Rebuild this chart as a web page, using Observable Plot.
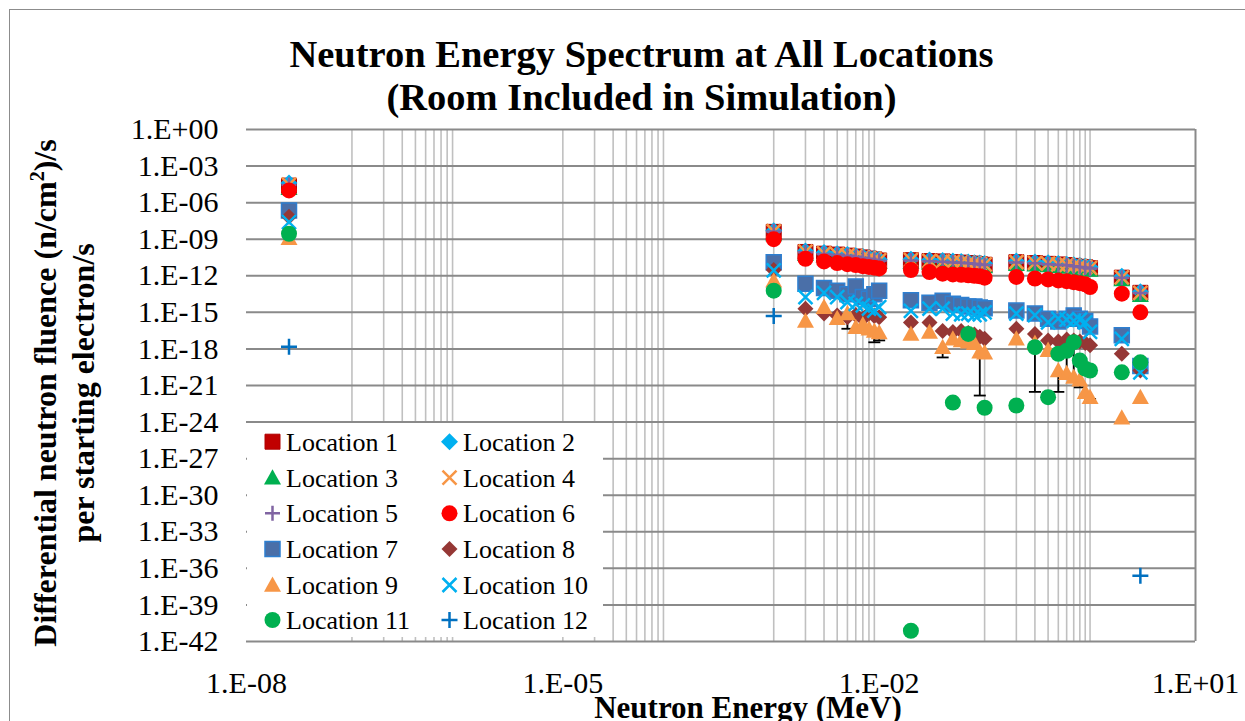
<!DOCTYPE html>
<html><head><meta charset="utf-8">
<script src="https://cdn.jsdelivr.net/npm/d3@7"></script>
<script src="https://cdn.jsdelivr.net/npm/@observablehq/plot@0.6"></script>
<style>
body{margin:0;background:#fff;}
#wrap{position:relative;width:1245px;height:721px;overflow:hidden;font-family:"Liberation Serif","Times New Roman",serif;color:#000;}
#border{position:absolute;left:9px;top:9px;width:1300px;height:800px;border-left:1.5px solid #8c8c8c;border-top:1.5px solid #8c8c8c;}
#chart{position:absolute;left:0;top:0;}
#title{position:absolute;left:0;width:1283px;top:33px;text-align:center;font-weight:bold;font-size:38.5px;line-height:43px;}
#ytitle{position:absolute;width:640px;height:76px;left:-256.5px;top:355px;transform:rotate(-90deg);transform-origin:center;text-align:center;font-weight:bold;font-size:32px;line-height:38px;white-space:nowrap;}
#xtitle{position:absolute;left:448px;width:600px;top:692px;text-align:center;font-weight:bold;font-size:31px;line-height:31px;white-space:nowrap;}
#legend{position:absolute;left:247px;top:423px;width:356px;height:214px;background:#fff;}
</style></head><body>
<div id="wrap">
<div id="border"></div>
<div id="chart"></div>
<div id="title">Neutron Energy Spectrum at All Locations<br>(Room Included in Simulation)</div>
<div id="ytitle">Differential neutron fluence (n/cm<sup style="font-size:20px;line-height:0">2</sup>)/s<br>per starting electron/s</div>
<div id="xtitle">Neutron Energy (MeV)</div>
<div id="legend"></div>
</div>
<script>
// ---- data (MeV energy bins) ----
const energy = [2.53e-8, 1e-3,
  2e-3, 3e-3, 4e-3, 5e-3, 6e-3, 7e-3, 8e-3, 9e-3, 1e-2,
  2e-2, 3e-2, 4e-2, 5e-2, 6e-2, 7e-2, 8e-2, 9e-2, 1e-1,
  2e-1, 3e-1, 4e-1, 5e-1, 6e-1, 7e-1, 8e-1, 9e-1, 1,
  2, 3];
const loc1 = [2.5e-5, 4e-9,
  9e-11, 6.5e-11, 5.5e-11, 4.5e-11, 3.8e-11, 3.2e-11, 2.6e-11, 2.2e-11, 1.8e-11,
  1.9e-11, 1.6e-11, 1.5e-11, 1.3e-11, 1.2e-11, 1.1e-11, 1e-11, 9e-12, 8e-12,
  1.3e-11, 1.1e-11, 9.5e-12, 8.5e-12, 7.5e-12, 6.5e-12, 5.5e-12, 5e-12, 4.2e-12,
  7e-13, 4e-14];
const loc2 = [4e-5, 5e-9,
  1.1e-10, 8e-11, 6.5e-11, 5.5e-11, 4.5e-11, 3.8e-11, 3.2e-11, 2.7e-11, 2.2e-11,
  2.3e-11, 2e-11, 1.8e-11, 1.6e-11, 1.5e-11, 1.35e-11, 1.2e-11, 1.1e-11, 1e-11,
  1.6e-11, 1.35e-11, 1.15e-11, 1e-11, 9e-12, 8e-12, 7e-12, 6e-12, 5.2e-12,
  9e-13, 5e-14];
const loc3 = [1.5e-5, 2.5e-9,
  6e-11, 4.5e-11, 3.8e-11, 3.2e-11, 2.7e-11, 2.3e-11, 1.9e-11, 1.6e-11, 1.3e-11,
  1.3e-11, 1.15e-11, 1.05e-11, 9.5e-12, 8.5e-12, 8e-12, 7.2e-12, 6.5e-12, 5.8e-12,
  9e-12, 8e-12, 7e-12, 6e-12, 5.3e-12, 4.6e-12, 4e-12, 3.5e-12, 3e-12,
  5e-13, 2.5e-14];
const loc4 = [3e-5, 4.5e-9,
  9.5e-11, 7e-11, 5.8e-11, 4.8e-11, 4e-11, 3.4e-11, 2.8e-11, 2.3e-11, 1.9e-11,
  2e-11, 1.7e-11, 1.55e-11, 1.4e-11, 1.25e-11, 1.15e-11, 1.05e-11, 9.5e-12, 8.5e-12,
  1.35e-11, 1.15e-11, 1e-11, 8.8e-12, 7.8e-12, 6.8e-12, 5.8e-12, 5.2e-12, 4.4e-12,
  7.5e-13, 4e-14];
const loc5 = [2.8e-5, 4.2e-9,
  8.5e-11, 6.2e-11, 5.2e-11, 4.3e-11, 3.6e-11, 3e-11, 2.5e-11, 2.1e-11, 1.7e-11,
  1.8e-11, 1.55e-11, 1.45e-11, 1.25e-11, 1.15e-11, 1.05e-11, 9.5e-12, 8.6e-12, 7.7e-12,
  1.25e-11, 1.05e-11, 9e-12, 8e-12, 7.2e-12, 6.2e-12, 5.3e-12, 4.8e-12, 4e-12,
  6.8e-13, 3.8e-14];
const loc6 = [1e-5, 1e-9,
  2.5e-11, 1.5e-11, 1.1e-11, 9e-12, 7.5e-12, 6.2e-12, 5.3e-12, 4.6e-12, 4e-12,
  3e-12, 2e-12, 1.5e-12, 1.3e-12, 1.2e-12, 1.1e-12, 1e-12, 9e-13, 7e-13,
  8e-13, 6e-13, 5e-13, 4.2e-13, 3.6e-13, 3e-13, 2.5e-13, 2e-13, 1.2e-13,
  3.4e-14, 1e-15];
const loc7 = [2.3e-7, 1.3e-11,
  2.2e-13, 1e-13, 6e-14, 3e-14, 1.3e-13, 1.8e-14, 1.3e-14, 3e-14, 6e-14,
  1e-14, 6e-15, 9e-15, 5e-15, 4e-15, 3e-15, 3e-15, 2.5e-15, 2.2e-15,
  1.4e-15, 8e-16, 3e-16, 1.8e-16, 3e-16, 5.6e-16, 3e-16, 2e-16, 7e-17,
  1.3e-17, 4e-20];
const loc8 = [7e-8, 3e-12,
  2e-15, 8e-16, 5.6e-16, 4e-16, 6e-16, 3e-16, 8e-16, 5e-16, 4e-16,
  1.5e-16, 1.5e-16, 3e-17, 2.5e-17, 3e-17, 2e-17, 1.5e-17, 1e-17, 7e-18,
  4.5e-17, 1.7e-17, 5e-18, 4e-18, 6e-18, 5e-18, 4e-18, 3e-18, 2e-18,
  4e-19, 1.7e-20];
const loc9 = [1.2e-9, 4e-13,
  2e-16, 2.7e-15, 3.3e-16, 8e-16, 6e-17, 1e-16, 4.5e-17, 3e-17, 2.2e-17,
  1.7e-17, 2.5e-17, 1.4e-18, 7e-18, 5e-18, 4e-18, 3e-18, 6e-19, 5e-19,
  6.8e-18, 3e-18, 8e-19, 1.7e-20, 1e-20, 5e-21, 3e-21, 2.8e-22, 1.1e-22,
  2.3e-24, 1.1e-22];
const loc10 = [2.5e-8, 2.8e-12,
  1.8e-14, 4e-14, 1.8e-14, 7e-15, 5e-15, 3.7e-15, 2e-15, 1.4e-15, 2.7e-15,
  1.3e-15, 2e-15, 2e-15, 8e-16, 7e-16, 8e-16, 6e-16, 7e-16, 1e-15,
  8e-16, 6e-16, 1.5e-16, 3e-16, 2.5e-16, 2e-16, 2.5e-16, 1.5e-16, 2.5e-17,
  6.8e-18, 1.2e-20];
const loc11 = [2.8e-9, 6e-14,
  null, null, null, null, null, null, null, null, null,
  7.6e-42, null, null, 4e-23, null, 1.7e-17, null, null, 1.5e-23,
  2.3e-23, 1.4e-18, 1.1e-22, 4e-19, 7e-19, 3.6e-18, 1.1e-19, 2.4e-20, 1.7e-20,
  1.2e-20, 8e-20];
const loc12 = [1.5e-18, 5e-16,
  null, null, null, null, null, null, null, null, null,
  null, null, null, null, null, null, null, null, null,
  null, null, null, null, null, null, null, null, null,
  null, 2.5e-37];

// error bars (energy, upper, lower)
const errEnergy = [1e-3, 5e-3, 9e-3, 1e-2, 4e-2, 9e-2, 3e-1, 5e-1, 6e-1, 7e-1, 8e-1, 9e-1, 1];
const errHigh  = [4e-13, 8e-16, 3e-17, 2.2e-17, 1.4e-18, 6e-19, 1.4e-18, 1.7e-20, 7e-19, 3.6e-18, 1.1e-19, 2.8e-22, 1.1e-22];
const errLow   = [1.5e-13, 4.5e-17, 3.5e-18, 5e-18, 2e-19, 1.5e-22, 3e-22, 3e-22, 3.5e-21, 4e-21, 7e-22, 1.5e-22, 8e-23];

const seriesNames = ["Location 1","Location 2","Location 3","Location 4","Location 5","Location 6",
  "Location 7","Location 8","Location 9","Location 10","Location 11","Location 12"];
const xTicks = [1e-8, 1e-5, 1e-2, 10];
const yTicks = [1, 1e-3, 1e-6, 1e-9, 1e-12, 1e-15, 1e-18, 1e-21, 1e-24, 1e-27, 1e-30, 1e-33, 1e-36, 1e-39, 1e-42];
const gridX = [1e-7,2e-7,3e-7,4e-7,5e-7,6e-7,7e-7,8e-7,9e-7,
  1e-5,2e-5,3e-5,4e-5,5e-5,6e-5,7e-5,8e-5,9e-5,
  1e-3,2e-3,3e-3,4e-3,5e-3,6e-3,7e-3,8e-3,9e-3,
  1e-1,2e-1,3e-1,4e-1,5e-1,6e-1,7e-1,8e-1,9e-1,1];

// ---- symbols ----
const R = s => Math.sqrt(s / Math.PI);
const sym = {
  square: {draw(c, s){ const r = R(s); c.moveTo(-r,-r); c.lineTo(r,-r); c.lineTo(r,r); c.lineTo(-r,r); c.closePath(); }},
  diamond: {draw(c, s){ const r = R(s); c.moveTo(0,-r); c.lineTo(r,0); c.lineTo(0,r); c.lineTo(-r,0); c.closePath(); }},
  triangle: {draw(c, s){ const r = R(s); c.moveTo(0,-r); c.lineTo(r,r*0.8); c.lineTo(-r,r*0.8); c.closePath(); }},
  cross: {draw(c, s){ const r = R(s); c.moveTo(-r,-r); c.lineTo(r,r); c.moveTo(-r,r); c.lineTo(r,-r); }},
  plus: {draw(c, s){ const r = R(s); c.moveTo(-r,0); c.lineTo(r,0); c.moveTo(0,-r); c.lineTo(0,r); }},
  circle: {draw(c, s){ const r = R(s); c.moveTo(r,0); c.arc(0,0,r,0,2*Math.PI); c.closePath(); }},
  cap: {draw(c, s){ const r = R(s); c.moveTo(-r,0); c.lineTo(r,0); }}
};
const styles = [
  {symbol: sym.square, fill: "#C00000", stroke: "#B00000", strokeWidth: 1, r: 7.5},
  {symbol: sym.diamond, fill: "#00B0F0", stroke: "none", r: 8.5},
  {symbol: sym.triangle, fill: "#00B050", stroke: "none", r: 8.5},
  {symbol: sym.cross, fill: "none", stroke: "#F79646", strokeWidth: 2.5, r: 7},
  {symbol: sym.plus, fill: "none", stroke: "#8064A2", strokeWidth: 2.5, r: 7.5},
  {symbol: sym.circle, fill: "#FF0000", stroke: "none", r: 8},
  {symbol: sym.square, fill: "#4A6FA8", stroke: "#2E7FD0", strokeWidth: 1.5, r: 7.5},
  {symbol: sym.diamond, fill: "#953735", stroke: "none", r: 8},
  {symbol: sym.triangle, fill: "#F79646", stroke: "none", r: 8.5},
  {symbol: sym.cross, fill: "none", stroke: "#00B0F0", strokeWidth: 2.5, r: 7},
  {symbol: sym.circle, fill: "#00B050", stroke: "none", r: 8},
  {symbol: sym.plus, fill: "none", stroke: "#0070C0", strokeWidth: 2.5, r: 8}
];
const allSeries = [loc1, loc2, loc3, loc4, loc5, loc6, loc7, loc8, loc9, loc10, loc11, loc12];

const fmt = d => { const e = Math.round(Math.log10(d)); return "1.E" + (e < 0 ? "-" : "+") + String(Math.abs(e)).padStart(2, "0"); };

const errRows = errEnergy.map((e, i) => ({e, hi: errHigh[i], lo: errLow[i]}));

const dotMarks = allSeries.map((vals, k) => {
  const rows = energy.map((e, i) => ({e, v: vals[i]})).filter(d => d.v != null);
  const st = styles[k];
  return Plot.dot(rows, {x: "e", y: "v", symbol: st.symbol, r: st.r, fill: st.fill, stroke: st.stroke, strokeWidth: st.strokeWidth || 1});
});

const chart = Plot.plot({
  width: 1245, height: 721,
  marginLeft: 246, marginRight: 50, marginTop: 129, marginBottom: 80,
  style: {fontFamily: "Liberation Serif, Times New Roman, serif", fontSize: "30px", color: "#000", background: "transparent"},
  x: {type: "log", domain: [1e-8, 10]},
  y: {type: "log", domain: [1e-42, 1]},
  marks: [
    Plot.ruleX(gridX, {stroke: "#c0c0c0", strokeWidth: 1.6}),
    Plot.ruleY(yTicks, {stroke: "#8a8a8a", strokeWidth: 2}),
    Plot.ruleX([10], {stroke: "#8a8a8a", strokeWidth: 2}),
    Plot.axisY({ticks: yTicks, tickFormat: fmt, tickSize: 0, tickPadding: 28, fontSize: 30, label: null}),
    Plot.axisX({ticks: xTicks, tickFormat: fmt, tickSize: 0, tickPadding: 30, fontSize: 30, label: null}),
    Plot.ruleX(errRows, {x: "e", y1: "hi", y2: "lo", stroke: "#000", strokeWidth: 1.8}),
    Plot.dot(errRows, {x: "e", y: "lo", symbol: sym.cap, r: 6, stroke: "#000", strokeWidth: 1.8, fill: "none"}),
    ...dotMarks
  ]
});
document.getElementById("chart").appendChild(chart);

// ---- legend ----
const lg = d3.select("#legend").append("svg").attr("width", 356).attr("height", 214);
const colX = [25.5, 202.5];
const rowY = [18.7, 54.7, 90.3, 126, 162, 197];
seriesNames.forEach((name, k) => {
  const cx = colX[k % 2], cy = rowY[Math.floor(k / 2)];
  const st = styles[k];
  const p = d3.path();
  st.symbol.draw(p, st.r * st.r * Math.PI);
  lg.append("path").attr("d", p.toString()).attr("transform", `translate(${cx},${cy})`)
    .attr("fill", st.fill).attr("stroke", st.stroke).attr("stroke-width", st.strokeWidth || 1);
  lg.append("text").attr("x", cx + 13.5).attr("y", cy + 9).attr("font-size", 26)
    .attr("font-family", "Liberation Serif, Times New Roman, serif").attr("fill", "#000").text(name);
});
</script>
</body></html>
